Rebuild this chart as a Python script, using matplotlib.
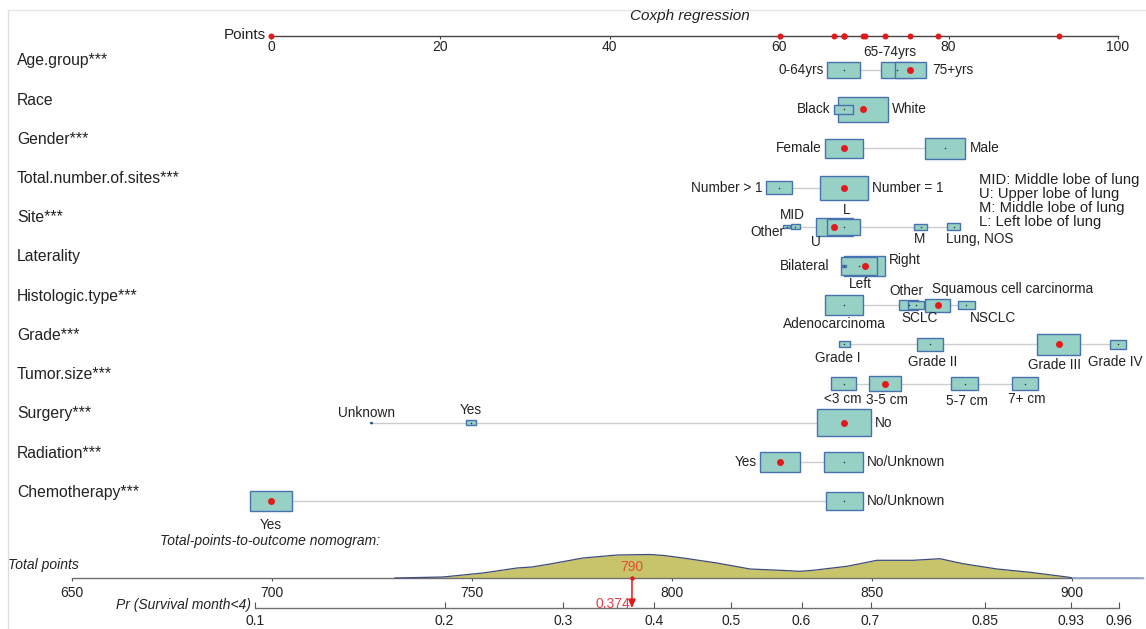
import numpy as np
import matplotlib
matplotlib.use("Agg")
import matplotlib.pyplot as plt
from matplotlib.patches import Rectangle
from matplotlib.lines import Line2D
import matplotlib.transforms as mtransforms

plt.rcParams['font.family'] = ['Liberation Sans', 'DejaVu Sans']

# ------------------------------------------------------------------ data
variables = ['Age.group***', 'Race', 'Gender***', 'Total.number.of.sites***', 'Site***',
             'Laterality', 'Histologic.type***', 'Grade***', 'Tumor.size***',
             'Surgery***', 'Radiation***', 'Chemotherapy***']

age_levels = ['0-64yrs', '65-74yrs', '75+yrs']
age_points = [67.65, 73.9, 75.5]
age_freq = [0.36, 0.33, 0.31]

race_levels = ['Black', 'White']
race_points = [67.6, 69.9]
race_freq = [0.11, 0.84]

gender_levels = ['Female', 'Male']
gender_points = [67.65, 79.6]
gender_freq = [0.46, 0.54]

sites_levels = ['Number > 1', 'Number = 1']
sites_points = [60.0, 67.65]
sites_freq = [0.23, 0.77]

site_levels = ['Other', 'MID', 'U', 'L', 'M', 'Lung, NOS']
site_points = [60.9, 61.9, 66.5, 67.6, 76.7, 80.6]
site_freq = [0.015, 0.03, 0.45, 0.36, 0.05, 0.06]

lat_levels = ['Bilateral', 'Right', 'Left']
lat_points = [67.65, 70.1, 69.4]
lat_freq = [0.008, 0.55, 0.44]

hist_levels = ['Adenocarcinoma', 'Other', 'SCLC', 'Squamous cell carcinorma', 'NSCLC']
hist_points = [67.65, 75.3, 76.15, 78.7, 82.1]
hist_freq = [0.50, 0.12, 0.095, 0.22, 0.09]

grade_levels = ['Grade I', 'Grade II', 'Grade III', 'Grade IV']
grade_points = [67.7, 77.8, 93.0, 100.0]
grade_freq = [0.046, 0.23, 0.61, 0.09]

tumor_levels = ['<3 cm', '3-5 cm', '5-7 cm', '7+ cm']
tumor_points = [67.6, 72.5, 81.9, 89.0]
tumor_freq = [0.21, 0.33, 0.235, 0.226]

surgery_levels = ['Unknown', 'Yes', 'No']
surgery_points = [11.8, 23.6, 67.6]
surgery_freq = [0.002, 0.035, 0.96]

radiation_levels = ['Yes', 'No/Unknown']
radiation_points = [60.1, 67.6]
radiation_freq = [0.51, 0.49]

chemo_levels = ['Yes', 'No/Unknown']
chemo_points = [0.0, 67.7]
chemo_freq = [0.56, 0.44]

selected_levels = ['75+yrs', 'White', 'Female', 'Number = 1', 'U', 'Right',
                   'Squamous cell carcinorma', 'Grade III', '3-5 cm', 'No', 'Yes', 'Yes']

points_ticks = [0, 20, 40, 60, 80, 100]
total_ticks = [650, 700, 750, 800, 850, 900]
prob_ticks = [0.1, 0.2, 0.3, 0.4, 0.5, 0.6, 0.7, 0.85, 0.93, 0.96]
total_points = 790
prob_value = 0.374

density_tp = [730.75, 742.75, 752.75, 761.25, 765.0, 769.5, 777.75, 786.25, 794.5, 798.0,
              802.75, 811.25, 819.5, 827.0, 832.0, 835.25, 843.75, 851.25, 860.25,
              867.0, 872.75, 881.25, 889.5, 898.75, 900.25, 917.0]
density_h = [0, 1, 5, 10, 11, 14, 20, 23, 23.5, 22.5, 20, 15, 9, 7.7, 6.7, 7.7, 11.7,
             17.7, 17.7, 19.3, 14.3, 9, 5.7, 1, 0, 0]

site_notes = ['MID: Middle lobe of lung', 'U: Upper lobe of lung',
              'M: Middle lobe of lung', 'L: Left lobe of lung']

all_levels = [age_levels, race_levels, gender_levels, sites_levels, site_levels, lat_levels,
              hist_levels, grade_levels, tumor_levels, surgery_levels, radiation_levels,
              chemo_levels]
all_points = [age_points, race_points, gender_points, sites_points, site_points, lat_points,
              hist_points, grade_points, tumor_points, surgery_points, radiation_points,
              chemo_points]
all_freq = [age_freq, race_freq, gender_freq, sites_freq, site_freq, lat_freq, hist_freq,
            grade_freq, tumor_freq, surgery_freq, radiation_freq, chemo_freq]

# ------------------------------------------------------------------ style
# label placement: (mode, dx px, dy px up)
label_style = {
    '0-64yrs': ('l', 0, 0), '65-74yrs': ('a', -7, 1), '75+yrs': ('r', 2, 0),
    'Black': ('l', 0, 0), 'White': ('r', 0, 0),
    'Female': ('l', 0, 0), 'Male': ('r', 0, 0),
    'Number > 1': ('l', 0, 0), 'Number = 1': ('r', 0, 0),
    'Other_4': ('l', 5, -5), 'MID': ('a', -3, 0), 'U': ('b', -18, 3), 'L': ('a', 3, 0),
    'M': ('b', -1, 0), 'Lung, NOS': ('bL', -1, 0),
    'Bilateral': ('l', -8, 0), 'Left': ('b', 1, 0), 'Right': ('r', 0, 6),
    'Adenocarcinoma': ('b', -10, 0), 'Other_6': ('a', -2, 0), 'SCLC': ('b', 4, 0),
    'Squamous cell carcinorma': ('aL', 7, 1), 'NSCLC': ('bL', 12, 0),
    'Grade I': ('b', -7, -2), 'Grade II': ('b', 3, -2), 'Grade III': ('b', -4, -1),
    'Grade IV': ('b', -3, -4),
    '<3 cm': ('b', -1, 0), '3-5 cm': ('b', 2, 0), '5-7 cm': ('b', 2, -2), '7+ cm': ('b', 2, 0),
    'Unknown': ('a', -4, 0), 'Yes_9': ('a', 0, 1), 'No': ('r', 0, 0),
    'Yes_10': ('l', 0, 0), 'No/Unknown_10': ('r', 0, 0),
    'Yes_11': ('b', 0, -5), 'No/Unknown_11': ('r', 0, 0),
}

W, H = 1146, 629
DPI = 100
BOX_FACE = '#97d0c5'
BOX_EDGE = '#4672ae'
LINE_GREY = '#cccccc'
RED = '#e3191c'
TXT = '#222222'


def fx(px):
    return px / W


def fy(py):
    return 1 - py / H


fig = plt.figure(figsize=(W / DPI, H / DPI), dpi=DPI)
fig.patch.set_facecolor('white')

# faint frame lines
fig.add_artist(Line2D([fx(8), fx(8)], [fy(10), 0], color='#dddddd', lw=1))
fig.add_artist(Line2D([fx(8), 1], [fy(10), fy(10)], color='#e6e6e6', lw=1))

# ------------------------------------------------------------------ main rows
X0, X1 = 271, 1118
ROW0, ROWSTEP = 70, 39.2
YT, YB = 20, 532
ax = fig.add_axes([fx(X0), fy(YB), fx(X1) - fx(X0), (YB - YT) / H])
ax.set_xlim(0, 100)
ax.set_ylim((YB - ROW0) / ROWSTEP, (YT - ROW0) / ROWSTEP)
ax.axis('off')

px_per_x = (X1 - X0) / 100.0
px_per_row = ROWSTEP
BOX_K = 27.5  # box height in px for frequency 1

trans_lab = mtransforms.blended_transform_factory(fig.transFigure, ax.transData)

for i, (name, levs, pts, frq) in enumerate(zip(variables, all_levels, all_points, all_freq)):
    ax.annotate(name, xy=(fx(17), i), xycoords=trans_lab, xytext=(0, 9),
                textcoords='offset pixels', ha='left', va='center', fontsize=11.3, color=TXT)
    ax.plot([min(pts), max(pts)], [i, i], color=LINE_GREY, lw=1, zorder=1,
            solid_capstyle='butt', clip_on=False)
    order = np.argsort(frq)[::-1]
    for j in order:
        lev, p, f = levs[j], pts[j], frq[j]
        hpx = BOX_K * np.sqrt(f)
        wpx = 2 * hpx
        w = wpx / px_per_x
        h = hpx / px_per_row
        ax.add_patch(Rectangle((p - w / 2, i - h / 2), w, h, facecolor=BOX_FACE,
                               edgecolor=BOX_EDGE, lw=1.0, zorder=2 + (1 - f),
                               clip_on=False))
        if lev == selected_levels[i]:
            ax.plot(p, i, 'o', color=RED, ms=5, mec='none', zorder=5, clip_on=False)
        else:
            ax.plot(p, i, 'o', color='#333333', ms=1.1, mec='none', zorder=5, clip_on=False)
        key = lev
        if f'{lev}_{i}' in label_style:
            key = f'{lev}_{i}'
        mode, dx, dy = label_style.get(key, ('r', 0, 0))
        if mode == 'l':
            xy, off, ha, va = (p - w / 2, i), (-4 + dx, dy), 'right', 'center'
        elif mode == 'r':
            xy, off, ha, va = (p + w / 2, i), (4 + dx, dy), 'left', 'center'
        elif mode == 'a':
            xy, off, ha, va = (p, i - h / 2), (dx, 2 + dy), 'center', 'bottom'
        elif mode == 'aL':
            xy, off, ha, va = (p - w / 2, i - h / 2), (dx, 2 + dy), 'left', 'bottom'
        elif mode == 'bL':
            xy, off, ha, va = (p - w / 2, i + h / 2), (dx, -2 + dy), 'left', 'top'
        else:
            xy, off, ha, va = (p, i + h / 2), (dx, -2 + dy), 'center', 'top'
        ax.annotate(lev, xy=xy, xytext=off, textcoords='offset pixels', ha=ha, va=va,
                    fontsize=9.8, color=TXT, zorder=6, annotation_clip=False)

# site abbreviations note
for k, note in enumerate(site_notes):
    fig.text(fx(979), fy(180 + 14 * k), note, ha='left', va='center', fontsize=10.6,
             color=TXT)

# ------------------------------------------------------------------ points axis
ax_pts = fig.add_axes([fx(X0), fy(36), fx(X1) - fx(X0), 0.0005])
ax_pts.set_xlim(0, 100)
ax_pts.set_ylim(0, 1)
for s in ['left', 'right', 'top']:
    ax_pts.spines[s].set_visible(False)
ax_pts.spines['bottom'].set_color('#444444')
ax_pts.spines['bottom'].set_linewidth(1.0)
ax_pts.patch.set_visible(False)
ax_pts.yaxis.set_visible(False)
ax_pts.set_xticks(points_ticks)
ax_pts.set_xticklabels([str(t) for t in points_ticks])
ax_pts.tick_params(axis='x', direction='out', length=2.5, width=0.8, color='#444444',
                   pad=0.5, labelsize=10, labelcolor=TXT)
sel_pts = [pts[levs.index(sel)] for levs, pts, sel in zip(all_levels, all_points, selected_levels)]
ax_pts.plot(sel_pts, [0] * len(sel_pts), 'o', color=RED, ms=4.3, mec='none',
            clip_on=False, zorder=5)
ax_pts.annotate('Points', xy=(0, 0), xytext=(-5, 1), textcoords='offset pixels',
                ha='right', va='center', fontsize=11, color=TXT)
fig.text(fx(690), fy(16), 'Coxph regression', ha='center', va='center', fontsize=11,
         style='italic', color=TXT)

# ------------------------------------------------------------------ total points axis
TX0, TX1 = 72, 1143
TP0 = 650
TP_PER_PX = 0.25
ax_tp = fig.add_axes([fx(TX0), fy(578), fx(TX1) - fx(TX0), 30 / H])
ax_tp.set_xlim(TP0, TP0 + (TX1 - TX0) * TP_PER_PX)
ax_tp.set_ylim(0, 30)
for s in ['left', 'right', 'top']:
    ax_tp.spines[s].set_visible(False)
ax_tp.spines['bottom'].set_color('#707070')
ax_tp.spines['bottom'].set_linewidth(1.0)
ax_tp.patch.set_visible(False)
ax_tp.yaxis.set_visible(False)
ax_tp.set_xticks(total_ticks)
ax_tp.set_xticklabels([str(t) for t in total_ticks])
ax_tp.tick_params(axis='x', direction='out', length=2.5, width=0.8, color='#555555',
                  pad=3, labelsize=10, labelcolor=TXT)
ax_tp.fill_between(density_tp, density_h, 0, color='#c8c46c', lw=0, zorder=2)
ax_tp.plot(density_tp, density_h, color='#3e4c7c', lw=0.9, zorder=3, clip_on=False)
ax_tp.plot([density_tp[-2], ax_tp.get_xlim()[1]], [0, 0], color='#9db3d8', lw=1.2, zorder=3,
           clip_on=False)
ax_tp.plot([total_points], [0], 'o', color=RED, ms=3.2, mec='none', zorder=6, clip_on=False)
ax_tp.annotate(str(total_points), xy=(total_points, 0), xytext=(0, 4),
               textcoords='offset pixels', ha='center', va='bottom', fontsize=10,
               color='#e4502c', zorder=7)

fig.text(fx(8), fy(565), 'Total points', ha='left', va='center', fontsize=10,
         style='italic', color=TXT)
fig.text(fx(160), fy(541), 'Total-points-to-outcome nomogram:', ha='left', va='center',
         fontsize=10, style='italic', color=TXT)

# ------------------------------------------------------------------ probability axis
CLL_A, CLL_B = 837.9, 63.18


def prob_to_tp(p):
    p = np.asarray(p, dtype=float)
    return CLL_A + CLL_B * np.log(-np.log(1 - p))


ax_pr = fig.add_axes([fx(TX0), fy(608), fx(TX1) - fx(TX0), 0.0005])
ax_pr.set_xlim(ax_tp.get_xlim())
ax_pr.set_ylim(0, 1)
for s in ['left', 'right', 'top']:
    ax_pr.spines[s].set_visible(False)
ax_pr.patch.set_visible(False)
ax_pr.yaxis.set_visible(False)
ax_pr.spines['bottom'].set_color('#707070')
ax_pr.spines['bottom'].set_linewidth(1.0)
ax_pr.spines['bottom'].set_bounds(float(prob_to_tp(prob_ticks[0])), float(prob_to_tp(prob_ticks[-1])))
ax_pr.set_xticks(prob_to_tp(prob_ticks))
ax_pr.set_xticklabels([f'{p:g}' for p in prob_ticks])
ax_pr.tick_params(axis='x', direction='in', length=4, width=0.8, color='#555555', pad=4,
                  labelsize=10, labelcolor=TXT)
ax_pr.annotate('Pr (Survival month<4)', xy=(float(prob_to_tp(prob_ticks[0])), 0),
               xytext=(-4, 3), textcoords='offset pixels', ha='right', va='center',
               fontsize=10, style='italic', color=TXT)

# arrow from total points to probability
x_arrow = float(prob_to_tp(prob_value))
ax_pr.annotate('', xy=(x_arrow, 0), xytext=(total_points, 0), textcoords=ax_tp.transData,
               arrowprops=dict(arrowstyle='-|>,head_length=0.5,head_width=0.22',
                               color=RED, lw=1.1, shrinkA=0, shrinkB=0), zorder=6)
ax_pr.annotate(f'{prob_value:g}', xy=(x_arrow, 0), xytext=(-2, 4), textcoords='offset pixels',
               ha='right', va='center', fontsize=10, color='#e0404f')

fig.savefig('out.png', dpi=DPI, facecolor='white')
